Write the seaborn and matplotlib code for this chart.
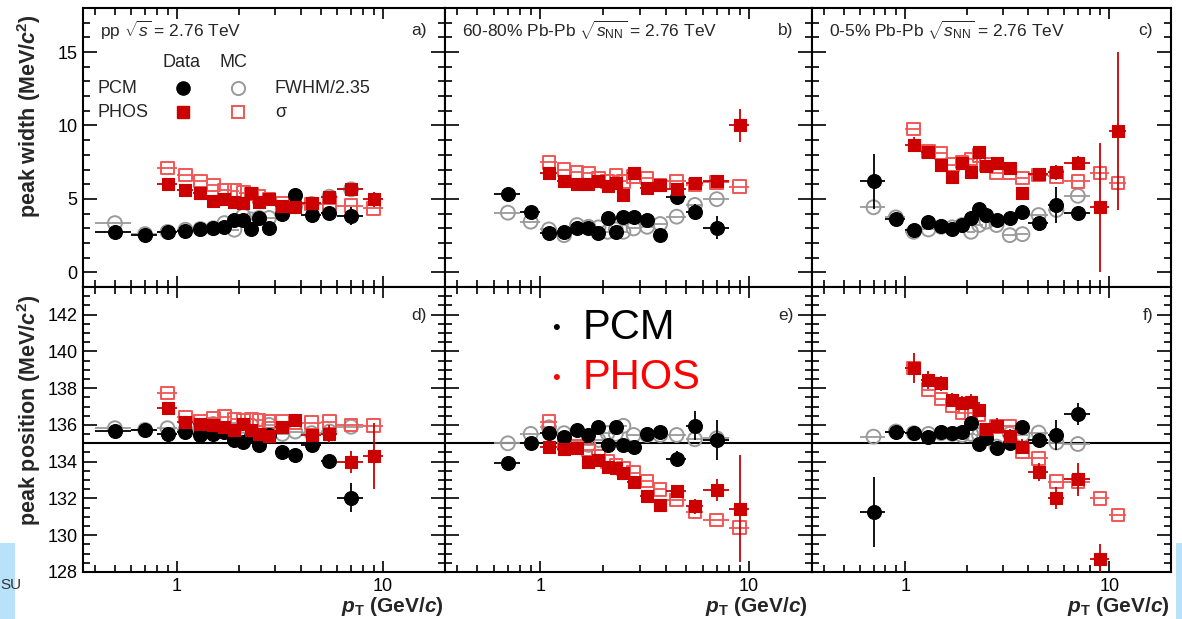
import numpy as np
import pandas as pd
import matplotlib
matplotlib.use("Agg")
import matplotlib.pyplot as plt
import seaborn as sns
from matplotlib.ticker import FixedLocator, NullFormatter, FixedFormatter, MultipleLocator
from matplotlib.patches import Rectangle

# ---------------- data ----------------
PT_PCM_PP = [0.5, 0.7, 0.9, 1.1, 1.3, 1.5, 1.7, 1.9, 2.1, 2.3, 2.5, 2.8, 3.25, 3.75, 4.5, 5.5, 7.0]
XERR_PCM_PP = [0.1, 0.1, 0.1, 0.1, 0.1, 0.1, 0.1, 0.1, 0.1, 0.1, 0.1, 0.2, 0.25, 0.25, 0.5, 0.5, 1.0]
PT_PCM_AA = [0.7, 0.9, 1.1, 1.3, 1.5, 1.7, 1.9, 2.1, 2.3, 2.5, 2.8, 3.25, 3.75, 4.5, 5.5, 7.0]
XERR_PCM_AA = [0.1, 0.1, 0.1, 0.1, 0.1, 0.1, 0.1, 0.1, 0.1, 0.1, 0.2, 0.25, 0.25, 0.5, 0.5, 1.0]
PT_PHOS_PP = [0.9, 1.1, 1.3, 1.5, 1.7, 1.9, 2.1, 2.3, 2.5, 2.8, 3.25, 3.75, 4.5, 5.5, 7.0, 9.0]
XERR_PHOS_PP = [0.1, 0.1, 0.1, 0.1, 0.1, 0.1, 0.1, 0.1, 0.1, 0.2, 0.25, 0.25, 0.5, 0.5, 1.0, 1.0]
PT_PHOS_PER = [1.1, 1.3, 1.5, 1.7, 1.9, 2.1, 2.3, 2.5, 2.8, 3.25, 3.75, 4.5, 5.5, 7.0, 9.0]
XERR_PHOS_PER = [0.1, 0.1, 0.1, 0.1, 0.1, 0.1, 0.1, 0.1, 0.2, 0.25, 0.25, 0.5, 0.5, 1.0, 1.0]
PT_PHOS_CEN = [1.1, 1.3, 1.5, 1.7, 1.9, 2.1, 2.3, 2.5, 2.8, 3.25, 3.75, 4.5, 5.5, 7.0, 9.0, 11.0]
XERR_PHOS_CEN = [0.1, 0.1, 0.1, 0.1, 0.1, 0.1, 0.1, 0.1, 0.2, 0.25, 0.25, 0.5, 0.5, 1.0, 1.0, 1.0]

# a) pp width
A_PCM = [2.76, 2.53, 2.72, 2.83, 2.97, 2.99, 3.1, 3.56, 3.56, 2.92, 3.68, 3.0, 4.0, 5.27, 3.9, 4.06, 3.84]
A_PCM_ERR = [0.1, 0.08, 0.08, 0.08, 0.08, 0.08, 0.1, 0.1, 0.1, 0.1, 0.12, 0.12, 0.15, 0.2, 0.3, 0.4, 0.6]
A_PCM_MC = [3.35, 2.6, 2.75, 2.9, 2.95, 3.0, 3.35, 2.9, 3.85, 3.6, 3.7, 3.7, 4.0, 4.5, 4.65, 5.15, 5.65]
A_PHOS = [6.0, 5.62, 5.39, 4.86, 5.0, 4.82, 4.75, 5.43, 4.82, 5.0, 4.52, 4.47, 4.7, 5.16, 5.66, 4.98]
A_PHOS_ERR = [0.2, 0.2, 0.2, 0.2, 0.2, 0.2, 0.2, 0.25, 0.2, 0.2, 0.2, 0.2, 0.2, 0.3, 0.35, 0.5]
A_PHOS_MC = [7.1, 6.64, 6.23, 5.94, 5.62, 5.57, 5.43, 5.34, 5.16, 5.0, 4.7, 4.66, 4.66, 4.66, 4.54, 4.36]

# b) 60-80% width
B_PCM = [5.32, 4.13, 2.65, 2.72, 2.99, 2.99, 2.65, 3.68, 2.76, 3.79, 3.79, 3.56, 2.53, 5.16, 4.13, 3.04]
B_PCM_ERR = [0.5, 0.3, 0.15, 0.15, 0.15, 0.15, 0.15, 0.2, 0.2, 0.2, 0.2, 0.2, 0.2, 0.4, 0.5, 0.8]
B_PCM_MC = [4.06, 3.45, 2.92, 2.53, 3.22, 3.1, 3.06, 2.76, 2.92, 2.76, 2.99, 3.1, 3.29, 3.79, 4.59, 4.98]
B_PHOS = [6.76, 6.19, 6.0, 6.0, 6.19, 5.89, 6.1, 5.27, 6.76, 5.73, 5.96, 5.66, 6.07, 6.19, 10.0]
B_PHOS_ERR = [0.25, 0.2, 0.2, 0.2, 0.2, 0.2, 0.2, 0.25, 0.25, 0.2, 0.2, 0.2, 0.25, 0.35, 1.1]
B_PHOS_MC = [7.49, 6.99, 6.8, 6.76, 6.42, 6.19, 6.58, 6.19, 6.53, 6.42, 5.96, 6.19, 5.96, 6.12, 5.84]

# c) 0-5% width
C_PCM = [6.19, 3.61, 2.88, 3.45, 3.15, 2.92, 3.22, 3.68, 4.29, 3.9, 3.56, 3.68, 4.13, 3.38, 4.59, 4.06]
C_PCM_ERR = [1.9, 0.4, 0.2, 0.25, 0.2, 0.2, 0.2, 0.2, 0.25, 0.2, 0.2, 0.2, 0.2, 0.3, 1.2, 0.4]
C_PCM_MC = [4.43, 3.74, 2.76, 2.92, 3.1, 3.06, 3.22, 2.76, 3.22, 3.45, 3.22, 2.53, 2.6, 3.9, 4.25, 5.21]
C_PHOS = [8.7, 8.2, 7.33, 6.46, 7.44, 6.8, 8.2, 7.21, 7.44, 7.1, 5.39, 6.71, 6.8, 7.44, 4.43, 9.61]
C_PHOS_ERR = [0.5, 0.4, 0.35, 0.3, 0.35, 0.35, 0.35, 0.3, 0.3, 0.3, 0.3, 0.3, 0.5, 0.5, 4.4, 5.4]
C_PHOS_MC = [9.77, 8.24, 8.13, 7.33, 7.51, 7.72, 7.95, 7.33, 6.76, 6.76, 6.42, 6.64, 6.53, 6.19, 6.76, 6.07]

# d) pp position
D_PCM = [135.69, 135.73, 135.51, 135.64, 135.45, 135.51, 135.64, 135.18, 135.09, 135.4, 134.9, 135.45, 134.55, 134.36, 134.91, 134.04, 132.05]
D_PCM_ERR = [0.1, 0.1, 0.1, 0.1, 0.1, 0.1, 0.1, 0.1, 0.1, 0.1, 0.1, 0.15, 0.15, 0.3, 0.25, 0.3, 0.8]
D_PCM_MC = [135.82, 135.73, 135.82, 135.73, 135.64, 136.05, 135.64, 135.73, 135.2, 135.95, 135.36, 136.0, 135.51, 135.64, 135.55, 135.64, 135.9]
D_PHOS = [136.91, 136.18, 136.05, 136.0, 135.9, 135.73, 136.05, 135.73, 135.5, 135.4, 135.9, 136.27, 135.45, 135.5, 134.0, 134.33]
D_PHOS_ERR = [0.2, 0.15, 0.15, 0.15, 0.15, 0.15, 0.15, 0.15, 0.15, 0.15, 0.15, 0.2, 0.3, 0.5, 0.6, 1.8]
D_PHOS_MC = [137.73, 136.42, 136.22, 136.36, 136.45, 136.31, 136.27, 136.31, 136.27, 136.18, 136.18, 136.1, 136.13, 136.18, 136.0, 135.96]

# e) 60-80% position
E_PCM = [133.91, 135.0, 135.55, 135.36, 135.73, 135.45, 135.91, 134.91, 135.91, 134.91, 134.82, 135.51, 135.64, 134.15, 135.96, 135.18]
E_PCM_ERR = [0.35, 0.15, 0.2, 0.2, 0.15, 0.15, 0.15, 0.15, 0.15, 0.15, 0.15, 0.2, 0.25, 0.45, 0.8, 1.1]
E_PCM_MC = [135.0, 135.51, 135.87, 135.55, 135.45, 134.91, 135.18, 135.55, 135.51, 135.95, 135.45, 135.45, 135.45, 135.45, 135.22, 135.27]
E_PHOS = [134.82, 134.67, 134.73, 134.0, 134.1, 133.73, 133.64, 133.4, 132.91, 132.13, 131.64, 132.42, 131.58, 132.45, 131.45]
E_PHOS_ERR = [0.15, 0.15, 0.15, 0.15, 0.15, 0.15, 0.15, 0.15, 0.2, 0.2, 0.2, 0.3, 0.4, 0.6, 2.9]
E_PHOS_MC = [136.18, 135.0, 134.82, 134.64, 134.27, 134.0, 133.82, 133.64, 133.4, 132.96, 132.49, 131.91, 131.27, 130.82, 130.42]

# f) 0-5% position
F_PCM = [131.27, 135.64, 135.55, 135.36, 135.64, 135.55, 135.64, 136.09, 134.96, 135.27, 134.73, 135.0, 135.91, 135.18, 135.45, 136.58]
F_PCM_ERR = [1.9, 0.3, 0.3, 0.3, 0.25, 0.25, 0.25, 0.3, 0.3, 0.3, 0.3, 0.3, 0.3, 0.35, 0.8, 0.6]
F_PCM_MC = [135.36, 135.64, 135.55, 135.51, 135.55, 135.51, 135.45, 135.51, 135.45, 135.64, 134.82, 135.51, 135.45, 135.58, 135.04, 134.96]
F_PHOS = [139.09, 138.45, 138.27, 137.36, 137.2, 137.27, 136.82, 135.76, 135.96, 135.4, 134.82, 133.45, 132.05, 133.04, 128.73]
F_PHOS_ERR = [0.8, 0.5, 0.4, 0.35, 0.35, 0.4, 0.4, 0.35, 0.4, 0.4, 0.4, 0.5, 0.6, 0.9, 0.8]
F_PHOS_MC = [139.1, 137.91, 137.4, 137.04, 136.64, 136.67, 136.55, 135.73, 135.91, 135.95, 134.55, 134.18, 132.91, 132.91, 132.0, 131.09]

TITLES = ["pp $\\sqrt{s}$ = 2.76 TeV",
          "60-80% Pb-Pb $\\sqrt{s_{\\rm NN}}$ = 2.76 TeV",
          "0-5% Pb-Pb $\\sqrt{s_{\\rm NN}}$ = 2.76 TeV"]
TAGS = ["a)", "b)", "c)", "d)", "e)", "f)"]

# ---------------- style ----------------
sns.set_style("ticks")
plt.rcParams['font.family'] = ['Liberation Sans', 'DejaVu Sans']
plt.rcParams['mathtext.fontset'] = 'custom'
plt.rcParams['mathtext.rm'] = 'Liberation Sans'
plt.rcParams['mathtext.it'] = 'Liberation Sans:italic'
plt.rcParams['mathtext.bf'] = 'Liberation Sans:bold'
plt.rcParams['mathtext.bfit'] = 'Liberation Sans:bold:italic'

BLACK = '#000000'
GREY = '#9a9a9a'
RED = '#cc0000'
PINK = '#f25555'

W, H = 1182, 619
fig = plt.figure(figsize=(W / 100, H / 100), dpi=100)
xb = [83, 445, 812, 1171]
top_row = (8, 287)
bot_row = (287, 572)


def add_ax(col, row):
    x0, x1 = xb[col], xb[col + 1]
    y0, y1 = row
    return fig.add_axes([x0 / W, 1 - y1 / H, (x1 - x0) / W, (y1 - y0) / H])


def series(ax, x, y, xerr, yerr, color, marker, filled, ms, z):
    ax.errorbar(x, y, xerr=xerr, yerr=yerr, fmt='none', ecolor=color,
                elinewidth=1.3, capsize=0, zorder=z)
    df = pd.DataFrame({'pt': x, 'val': y})
    if filled:
        sns.scatterplot(data=df, x='pt', y='val', ax=ax, marker=marker, s=ms,
                        color=color, edgecolor=color, linewidth=0.8,
                        legend=False, zorder=z + 0.5)
    else:
        sns.scatterplot(data=df, x='pt', y='val', ax=ax, marker=marker, s=ms,
                        color=color, facecolor='none', edgecolor=color,
                        linewidth=1.4, legend=False, zorder=z + 0.5)


panels = [
    (0, top_row, PT_PCM_PP, XERR_PCM_PP, A_PCM, A_PCM_ERR, A_PCM_MC,
     PT_PHOS_PP, XERR_PHOS_PP, A_PHOS, A_PHOS_ERR, PT_PHOS_PP, XERR_PHOS_PP, A_PHOS_MC),
    (1, top_row, PT_PCM_AA, XERR_PCM_AA, B_PCM, B_PCM_ERR, B_PCM_MC,
     PT_PHOS_PER, XERR_PHOS_PER, B_PHOS, B_PHOS_ERR, PT_PHOS_PER, XERR_PHOS_PER, B_PHOS_MC),
    (2, top_row, PT_PCM_AA, XERR_PCM_AA, C_PCM, C_PCM_ERR, C_PCM_MC,
     PT_PHOS_CEN, XERR_PHOS_CEN, C_PHOS, C_PHOS_ERR, PT_PHOS_CEN, XERR_PHOS_CEN, C_PHOS_MC),
    (0, bot_row, PT_PCM_PP, XERR_PCM_PP, D_PCM, D_PCM_ERR, D_PCM_MC,
     PT_PHOS_PP, XERR_PHOS_PP, D_PHOS, D_PHOS_ERR, PT_PHOS_PP, XERR_PHOS_PP, D_PHOS_MC),
    (1, bot_row, PT_PCM_AA, XERR_PCM_AA, E_PCM, E_PCM_ERR, E_PCM_MC,
     PT_PHOS_PER, XERR_PHOS_PER, E_PHOS, E_PHOS_ERR, PT_PHOS_PER, XERR_PHOS_PER, E_PHOS_MC),
    (2, bot_row, PT_PCM_AA, XERR_PCM_AA, F_PCM, F_PCM_ERR, F_PCM_MC,
     PT_PHOS_PER, XERR_PHOS_PER, F_PHOS, F_PHOS_ERR, PT_PHOS_CEN, XERR_PHOS_CEN, F_PHOS_MC),
]

minor_x = [0.4, 0.5, 0.6, 0.7, 0.8, 0.9, 2, 3, 4, 5, 6, 7, 8, 9, 20]
axes = []
for i, (col, row, px, pxe, pcm, pcme, pcmmc, hx, hxe, phos, phose, hmx, hmxe, phosmc) in enumerate(panels):
    ax = add_ax(col, row)
    axes.append(ax)
    is_top = row is top_row
    if not is_top:
        ax.axhline(135, color='black', lw=1.5, zorder=1)
    series(ax, px, pcmmc, pxe, None, GREY, 'o', False, 100, 2)
    series(ax, hmx, phosmc, hmxe, None, PINK, 's', False, 82, 3)
    series(ax, px, pcm, pxe, pcme, BLACK, 'o', True, 100, 4)
    series(ax, hx, phos, hxe, phose, RED, 's', True, 82, 5)

    ax.set_xscale('log')
    ax.set_xlim(0.35, 20)
    ax.set_xlabel('')
    ax.set_ylabel('')
    ax.xaxis.set_major_locator(FixedLocator([1, 10]))
    ax.xaxis.set_minor_locator(FixedLocator(minor_x))
    ax.xaxis.set_minor_formatter(NullFormatter())
    if is_top:
        ax.set_ylim(-1, 18)
        ax.yaxis.set_major_locator(MultipleLocator(5))
        ax.yaxis.set_minor_locator(MultipleLocator(1))
        ax.xaxis.set_major_formatter(NullFormatter())
    else:
        ax.set_ylim(128, 143.5)
        ax.yaxis.set_major_locator(MultipleLocator(2))
        ax.yaxis.set_minor_locator(MultipleLocator(0.5))
        ax.xaxis.set_major_formatter(FixedFormatter(['1', '10']))
    if col != 0:
        ax.yaxis.set_major_formatter(NullFormatter())
    ax.tick_params(which='both', direction='in', top=True, right=True,
                   width=1.2, labelsize=13, colors='black', pad=4)
    ax.tick_params(axis='y', which='major', length=10)
    ax.tick_params(axis='y', which='minor', length=5)
    ax.tick_params(axis='x', which='major', length=8)
    ax.tick_params(axis='x', which='minor', length=5)
    for sp in ax.spines.values():
        sp.set_linewidth(1.5)
        sp.set_color('black')
    ax.set_facecolor('white')

    if is_top:
        ax.text(0.047, 0.918, TITLES[col], transform=ax.transAxes, fontsize=12.5,
                ha='left', va='center')
        ax.text(0.95, 0.918, TAGS[i], transform=ax.transAxes, fontsize=12.5,
                ha='right', va='center')
    else:
        ax.text(0.95, 0.90, TAGS[i], transform=ax.transAxes, fontsize=12.5,
                ha='right', va='center')

# legend of panel a
axa = axes[0]
lt = axa.transAxes
axa.text(0.273, 0.806, 'Data', transform=lt, fontsize=13, ha='center', va='center')
axa.text(0.415, 0.806, 'MC', transform=lt, fontsize=13, ha='center', va='center')
axa.text(0.039, 0.713, 'PCM', transform=lt, fontsize=13, ha='left', va='center')
axa.text(0.039, 0.627, 'PHOS', transform=lt, fontsize=13, ha='left', va='center')
axa.text(0.53, 0.713, 'FWHM/2.35', transform=lt, fontsize=13, ha='left', va='center')
axa.text(0.53, 0.627, 'σ', transform=lt, fontsize=13, ha='left', va='center')
axa.plot([0.276], [0.713], transform=lt, marker='o', ms=9.5, color=BLACK, ls='none')
axa.plot([0.428], [0.713], transform=lt, marker='o', ms=9.5, mfc='none', mec=GREY, mew=1.4, ls='none')
axa.plot([0.276], [0.627], transform=lt, marker='s', ms=8.5, color=RED, ls='none')
axa.plot([0.428], [0.627], transform=lt, marker='s', ms=8.5, mfc='none', mec=PINK, mew=1.4, ls='none')

# axis titles
fig.text(29 / W, 1 - 116 / H, 'peak width (MeV/$\\mathbfit{c}^{\\mathbf{2}}$)', rotation=90,
         fontsize=15.5, fontweight='bold', ha='center', va='center')
fig.text(29 / W, 1 - 410 / H, 'peak position (MeV/$\\mathbfit{c}^{\\mathbf{2}}$)', rotation=90,
         fontsize=15.5, fontweight='bold', ha='center', va='center')
for xr in [444, 808, 1170]:
    fig.text(xr / W, 1 - 607 / H, '$\\mathbfit{p}_{\\mathbf{T}}$ (GeV/$\\mathbfit{c}$)',
             fontsize=15, fontweight='bold', ha='right', va='center')

# slide overlay annotation
fig.text(556 / W, 1 - 328 / H, '•', fontsize=16, color='black', ha='center', va='center')
fig.text(583 / W, 1 - 328 / H, 'PCM', fontsize=30, color='black', ha='left', va='center')
fig.text(556 / W, 1 - 378 / H, '•', fontsize=16, color='#ff0000', ha='center', va='center')
fig.text(583 / W, 1 - 378 / H, 'PHOS', fontsize=30, color='#ff0000', ha='left', va='center')

# slide background fragments
fig.patches.append(Rectangle((0, 0), 15 / W, 76 / H, transform=fig.transFigure,
                             facecolor='#b8e2fa', edgecolor='none', zorder=-1))
fig.patches.append(Rectangle((1176 / W, 0), 6 / W, 76 / H, transform=fig.transFigure,
                             facecolor='#b8e2fa', edgecolor='none', zorder=-1))
fig.text(0.0, 1 - 585 / H, 'SU', fontsize=11, color='#333333', ha='left', va='center')

fig.savefig('out.png', dpi=100, facecolor='white')
